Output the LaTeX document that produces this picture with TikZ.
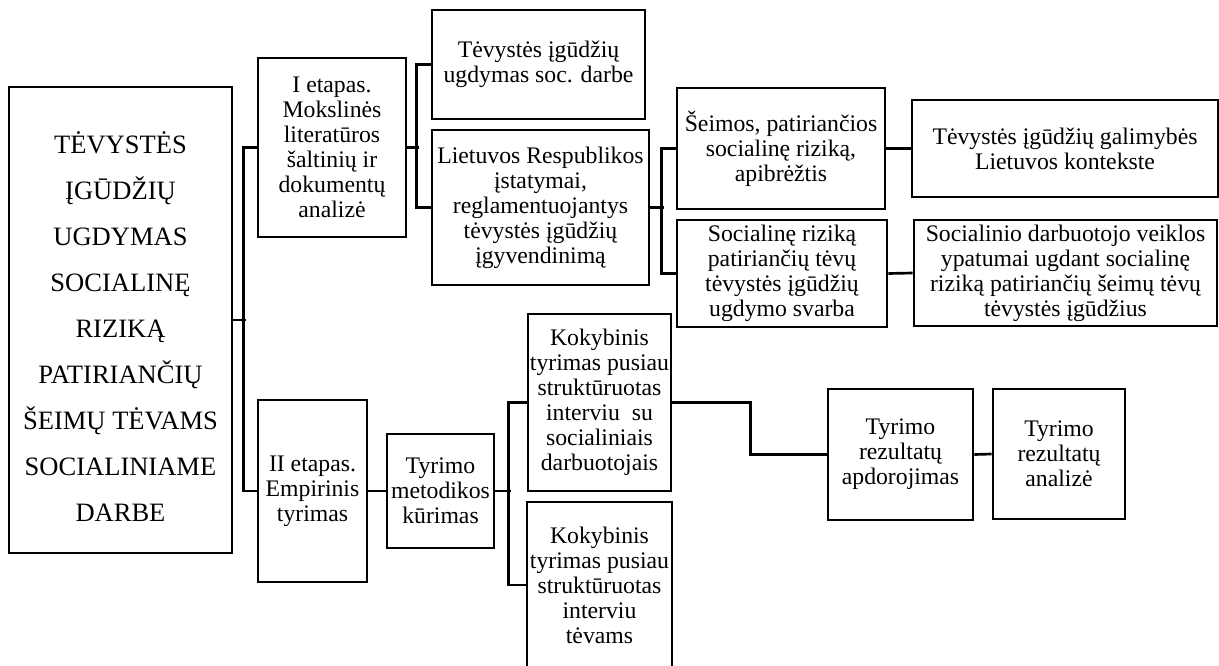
\documentclass[tikz,border=0pt]{standalone}
\usepackage{fontspec}
\setmainfont{Liberation Serif}
\begin{document}
\begin{tikzpicture}[x=0.75pt,y=-0.75pt,
  box/.style={draw,line width=2pt,inner sep=0pt,align=center,
    font=\fontsize{17.8}{18.75}\selectfont},
  maintext/.style={inner sep=0pt,align=center,font=\fontsize{19.9}{34.5}\selectfont},
  conn/.style={line width=2pt}]
\clip (0,0) rectangle (1219,666);
\useasboundingbox (0,0) rectangle (1219,666);
\fill[white] (0,0) rectangle (1219,666);
% boxes
\node[box,minimum width=223*0.75pt,minimum height=466*0.75pt] (main) at (120.5,320) {};
\node[maintext] (mainlbl) at (120.5,326.5)
  {TĖVYSTĖS\\ĮGŪDŽIŲ\\UGDYMAS\\SOCIALINĘ\\RIZIKĄ\\PATIRIANČIŲ\\ŠEIMŲ TĖVAMS\\SOCIALINIAME\\DARBE};
\node[box,minimum width=148*0.75pt,minimum height=179*0.75pt] (b1) at (332,147.5)
  {I etapas.\\Mokslinės\\literatūros\\šaltinių ir\\dokumentų\\analizė};
\node[box,minimum width=109*0.75pt,minimum height=182*0.75pt] (b2) at (312.5,491)
  {II etapas.\\Empirinis\\tyrimas};
\node[box,minimum width=107*0.75pt,minimum height=114*0.75pt] (b3) at (440.5,491)
  {Tyrimo\\metodikos\\kūrimas};
\node[box,minimum width=143*0.75pt,minimum height=177*0.75pt] (b4) at (599.5,402.5)
  {Kokybinis\\tyrimas pusiau\\struktūruotas\\interviu\ \ su\\socialiniais\\darbuotojais};
\node[box,minimum width=145*0.75pt,minimum height=166*0.75pt] (b5) at (599.5,585)
  {Kokybinis\\tyrimas pusiau\\struktūruotas\\interviu\\tėvams};
\node[box,minimum width=145*0.75pt,minimum height=131*0.75pt] (b6) at (900.5,454.5)
  {Tyrimo\\rezultatų\\apdorojimas};
\node[box,minimum width=132*0.75pt,minimum height=130*0.75pt] (b7) at (1059,454)
  {Tyrimo\\rezultatų\\analizė};
\node[box,minimum width=213*0.75pt,minimum height=109*0.75pt] (b8) at (538.5,64.5)
  {Tėvystės įgūdžių\\ugdymas soc. darbe};
\node[box,minimum width=217*0.75pt,minimum height=155*0.75pt] (b9) at (540.5,207.5)
  {Lietuvos Respublikos\\įstatymai,\\reglamentuojantys\\tėvystės įgūdžių\\įgyvendinimą};
\node[box,minimum width=208*0.75pt,minimum height=121*0.75pt] (b10) at (781,148.5)
  {Šeimos, patiriančios\\socialinę riziką,\\apibrėžtis};
\node[box,minimum width=210*0.75pt,minimum height=107*0.75pt] (b11) at (782,273.5)
  {Socialinę riziką\\patiriančių tėvų\\tėvystės įgūdžių\\ugdymo svarba};
\node[box,minimum width=306*0.75pt,minimum height=97*0.75pt] (b12) at (1065,148.5)
  {Tėvystės įgūdžių galimybės\\Lietuvos kontekste};
\node[box,minimum width=303*0.75pt,minimum height=106*0.75pt] (b13) at (1065.5,273)
  {Socialinio darbuotojo veiklos\\ypatumai ugdant socialinę\\riziką patiriančių šeimų tėvų\\tėvystės įgūdžius};
% connectors
\draw[conn] (main.east) -- ++(13,0);
\draw[conn] (b1.west) -- ++(-13,0) |- (b2.west);
\draw[conn] (b1.east) -- ++(12,0);
\draw[conn] (b8.west) -- ++(-14,0) |- (b9.west);
\draw[conn] (b9.east) -- ++(14,0);
\draw[conn] (b10.west) -- ++(-14,0) |- (b11.west);
\draw[conn] (b10.east) -- (b12.west);
\draw[conn] (b11.east) -- (b13.west);
\draw[conn] (b2.east) -- (b3.west);
\draw[conn] (b3.east) -- ++(16,0);
\draw[conn] (b4.west) -- ++(-18,0) |- (b5.west);
\draw[conn] (b4.east) -- ++(78,0) |- (b6.west);
\draw[conn] (b6.east) -- (b7.west);
\end{tikzpicture}
\end{document}
